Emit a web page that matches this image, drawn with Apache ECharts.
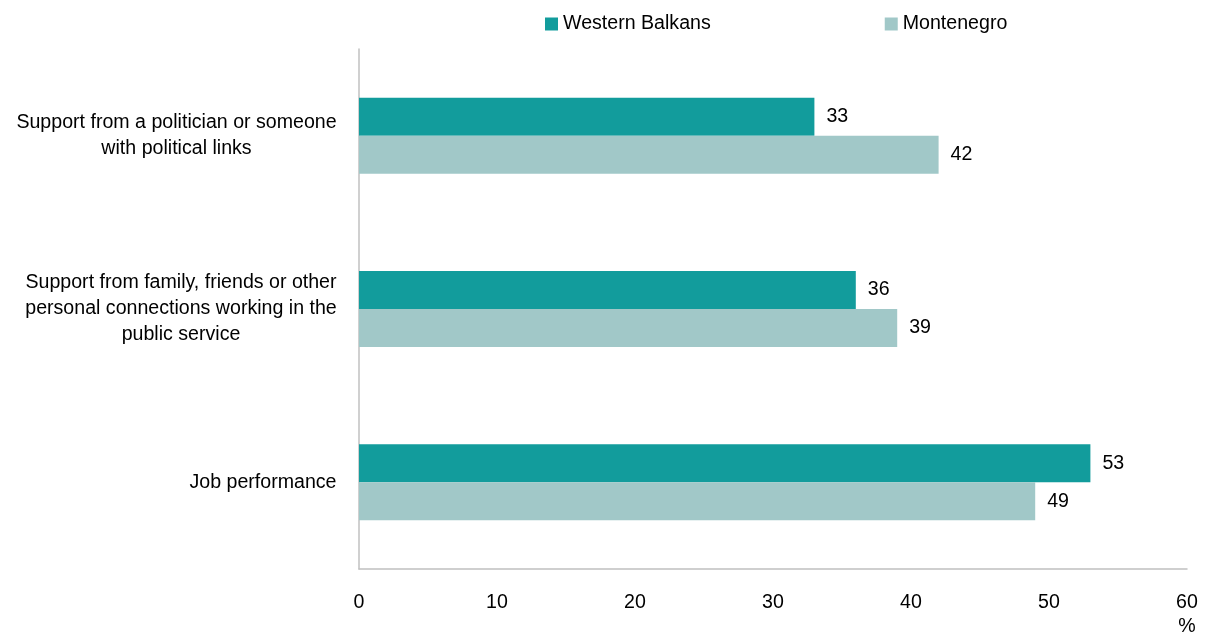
<!DOCTYPE html>
<html>
<head>
<meta charset="utf-8">
<script src="https://cdn.jsdelivr.net/npm/echarts@6/dist/echarts.min.js"></script>
<style>
  html, body { margin: 0; padding: 0; background: #fff; overflow: hidden; }
  #chart { width: 1207px; height: 634px; }
</style>
</head>
<body>
<div id="chart"></div>
<script>
// Categories listed top to bottom
const categories = [
  'Support from a politician or someone\nwith political links',
  'Support from family, friends or other\npersonal connections working in the\npublic service',
  'Job performance'
];
const westernBalkans = [33, 36, 53];
const montenegro = [42, 39, 49];
const xTicks = [0, 10, 20, 30, 40, 50, 60];
const xUnit = '%';

const FONT = '"Liberation Sans", Arial, sans-serif';
const FONT_SIZE = 19.6;

// Each category label is a block whose lines are centred on each other,
// with the block itself sitting right-aligned against the axis.
const measureCtx = document.createElement('canvas').getContext('2d');
measureCtx.font = FONT_SIZE + 'px ' + FONT;
const labelRich = {};
categories.forEach(function (c, i) {
  const w = Math.max.apply(null, c.split('\n').map(function (l) { return measureCtx.measureText(l).width; }));
  labelRich['b' + i] = {
    width: Math.ceil(w), align: 'center',
    fontFamily: FONT, fontSize: FONT_SIZE, lineHeight: 26, color: '#000'
  };
});

const chart = echarts.init(document.getElementById('chart'), null, { renderer: 'canvas' });

const valueLabel = {
  show: true,
  position: 'right',
  distance: 12,
  color: '#000',
  fontFamily: FONT,
  fontSize: FONT_SIZE
};

chart.setOption({
  animation: false,
  textStyle: { fontFamily: FONT },
  legend: {
    top: 9,
    left: 540,
    itemGap: 174,
    itemWidth: 13,
    itemHeight: 13,
    icon: 'rect',
    textStyle: { fontFamily: FONT, fontSize: FONT_SIZE, color: '#000' },
    data: ['Western Balkans', 'Montenegro']
  },
  grid: {
    left: 359, right: 20, top: 49, bottom: 65,
    containLabel: false,
    outerBoundsMode: 'none'
  },
  xAxis: {
    type: 'value',
    min: xTicks[0],
    max: xTicks[xTicks.length - 1],
    interval: xTicks[1] - xTicks[0],
    axisLine: { show: true, lineStyle: { color: '#c0c0c0', width: 1.5 } },
    axisTick: { show: false },
    splitLine: { show: false },
    axisLabel: {
      color: '#000', fontFamily: FONT, fontSize: FONT_SIZE, margin: 22,
      formatter: function (v) { return v === xTicks[xTicks.length - 1] ? v + '\n' + xUnit : String(v); },
      lineHeight: 24,
      verticalAlign: 'top'
    }
  },
  yAxis: {
    type: 'category',
    inverse: true,
    data: categories,
    axisLine: { show: true, lineStyle: { color: '#c0c0c0', width: 1.5 } },
    axisTick: { show: false },
    axisLabel: {
      align: 'right',
      margin: 22,
      formatter: function (v, i) {
        return v.split('\n').map(function (l) { return '{b' + i + '|' + l + '}'; }).join('\n');
      },
      rich: labelRich
    }
  },
  series: [
    {
      name: 'Western Balkans',
      type: 'bar',
      data: westernBalkans,
      barWidth: 38,
      barGap: '0%',
      itemStyle: { color: '#129c9c' },
      label: valueLabel
    },
    {
      name: 'Montenegro',
      type: 'bar',
      data: montenegro,
      barWidth: 38,
      barGap: '0%',
      itemStyle: { color: '#a1c8c8' },
      label: valueLabel
    }
  ]
});
</script>
</body>
</html>
